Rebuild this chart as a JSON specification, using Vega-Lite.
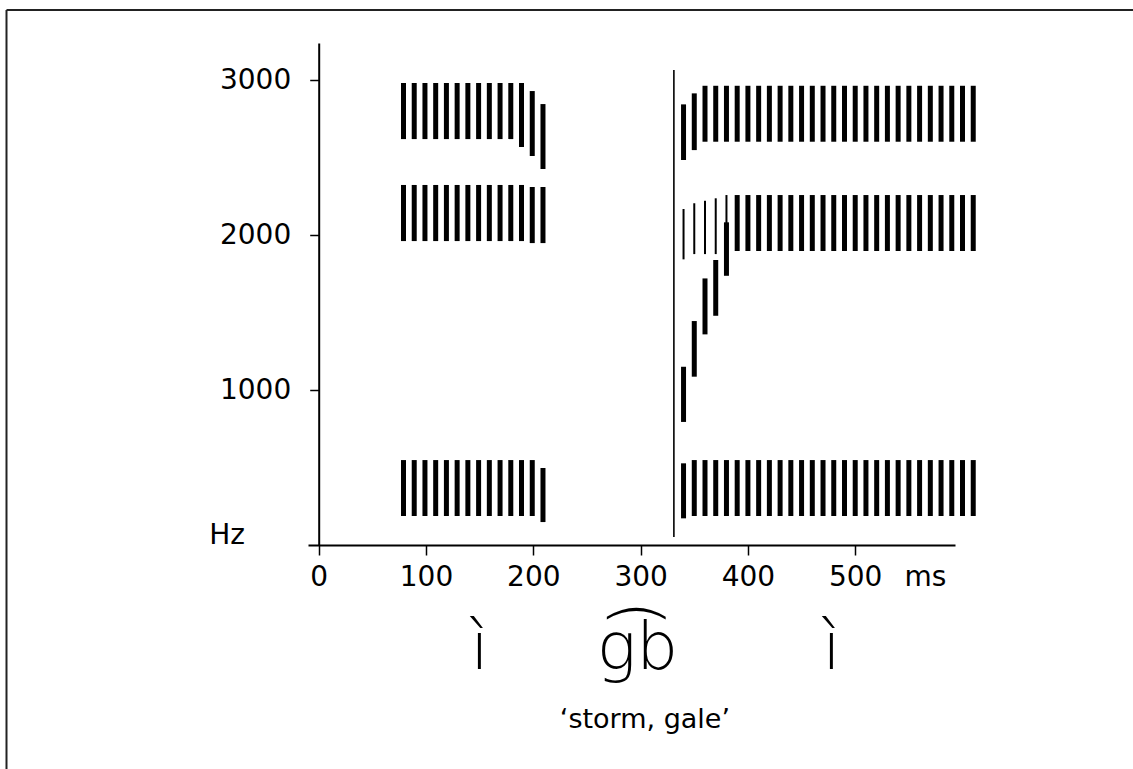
{
  "$schema": "https://vega.github.io/schema/vega-lite/v6.json",
  "autosize": {"type": "none"},
  "padding": {"left": 308, "top": 43, "right": 178, "bottom": 224},
  "width": 647,
  "height": 502,
  "background": "white",
  "datasets": {
    "bars": [
      {"t":79,"f":2619,"f2":2981},{"t":89,"f":2619,"f2":2981},{"t":99,"f":2619,"f2":2981},{"t":109,"f":2619,"f2":2981},{"t":119,"f":2619,"f2":2981},{"t":129,"f":2619,"f2":2981},{"t":139,"f":2619,"f2":2981},{"t":149,"f":2619,"f2":2981},{"t":159,"f":2619,"f2":2981},{"t":169,"f":2619,"f2":2981},{"t":179,"f":2619,"f2":2981},{"t":189,"f":2568,"f2":2981},{"t":199,"f":2510,"f2":2929},{"t":209,"f":2426,"f2":2845},
      {"t":79,"f":1961,"f2":2323},{"t":89,"f":1961,"f2":2323},{"t":99,"f":1961,"f2":2323},{"t":109,"f":1961,"f2":2323},{"t":119,"f":1961,"f2":2323},{"t":129,"f":1961,"f2":2323},{"t":139,"f":1961,"f2":2323},{"t":149,"f":1961,"f2":2323},{"t":159,"f":1961,"f2":2323},{"t":169,"f":1961,"f2":2323},{"t":179,"f":1961,"f2":2323},{"t":189,"f":1961,"f2":2323},{"t":199,"f":1948,"f2":2310},{"t":209,"f":1948,"f2":2310},
      {"t":79,"f":187,"f2":548},{"t":89,"f":187,"f2":548},{"t":99,"f":187,"f2":548},{"t":109,"f":187,"f2":548},{"t":119,"f":187,"f2":548},{"t":129,"f":187,"f2":548},{"t":139,"f":187,"f2":548},{"t":149,"f":187,"f2":548},{"t":159,"f":187,"f2":548},{"t":169,"f":187,"f2":548},{"t":179,"f":187,"f2":548},{"t":189,"f":187,"f2":548},{"t":199,"f":187,"f2":548},{"t":209,"f":148,"f2":497},
      {"t":340,"f":2484,"f2":2843},{"t":350,"f":2548,"f2":2914},{"t":360,"f":2602,"f2":2963},{"t":370,"f":2602,"f2":2963},{"t":380,"f":2602,"f2":2963},{"t":390,"f":2602,"f2":2963},{"t":400,"f":2602,"f2":2963},{"t":410,"f":2602,"f2":2963},{"t":420,"f":2602,"f2":2963},{"t":430,"f":2602,"f2":2963},{"t":440,"f":2602,"f2":2963},{"t":450,"f":2602,"f2":2963},{"t":460,"f":2602,"f2":2963},{"t":470,"f":2602,"f2":2963},{"t":480,"f":2602,"f2":2963},{"t":490,"f":2602,"f2":2963},{"t":500,"f":2602,"f2":2963},{"t":510,"f":2602,"f2":2963},{"t":520,"f":2602,"f2":2963},{"t":530,"f":2602,"f2":2963},{"t":540,"f":2602,"f2":2963},{"t":550,"f":2602,"f2":2963},{"t":560,"f":2602,"f2":2963},{"t":570,"f":2602,"f2":2963},{"t":580,"f":2602,"f2":2963},{"t":590,"f":2602,"f2":2963},{"t":600,"f":2602,"f2":2963},{"t":610,"f":2602,"f2":2963},
      {"t":340,"f":794,"f2":1150},{"t":350,"f":1086,"f2":1445},{"t":360,"f":1359,"f2":1720},{"t":370,"f":1479,"f2":1839},{"t":380,"f":1737,"f2":2082},
      {"t":390,"f":1897,"f2":2258},{"t":400,"f":1897,"f2":2258},{"t":410,"f":1897,"f2":2258},{"t":420,"f":1897,"f2":2258},{"t":430,"f":1897,"f2":2258},{"t":440,"f":1897,"f2":2258},{"t":450,"f":1897,"f2":2258},{"t":460,"f":1897,"f2":2258},{"t":470,"f":1897,"f2":2258},{"t":480,"f":1897,"f2":2258},{"t":490,"f":1897,"f2":2258},{"t":500,"f":1897,"f2":2258},{"t":510,"f":1897,"f2":2258},{"t":520,"f":1897,"f2":2258},{"t":530,"f":1897,"f2":2258},{"t":540,"f":1897,"f2":2258},{"t":550,"f":1897,"f2":2258},{"t":560,"f":1897,"f2":2258},{"t":570,"f":1897,"f2":2258},{"t":580,"f":1897,"f2":2258},{"t":590,"f":1897,"f2":2258},{"t":600,"f":1897,"f2":2258},{"t":610,"f":1897,"f2":2258},
      {"t":340,"f":172,"f2":527},{"t":350,"f":187,"f2":548},{"t":360,"f":187,"f2":548},{"t":370,"f":187,"f2":548},{"t":380,"f":187,"f2":548},{"t":390,"f":187,"f2":548},{"t":400,"f":187,"f2":548},{"t":410,"f":187,"f2":548},{"t":420,"f":187,"f2":548},{"t":430,"f":187,"f2":548},{"t":440,"f":187,"f2":548},{"t":450,"f":187,"f2":548},{"t":460,"f":187,"f2":548},{"t":470,"f":187,"f2":548},{"t":480,"f":187,"f2":548},{"t":490,"f":187,"f2":548},{"t":500,"f":187,"f2":548},{"t":510,"f":187,"f2":548},{"t":520,"f":187,"f2":548},{"t":530,"f":187,"f2":548},{"t":540,"f":187,"f2":548},{"t":550,"f":187,"f2":548},{"t":560,"f":187,"f2":548},{"t":570,"f":187,"f2":548},{"t":580,"f":187,"f2":548},{"t":590,"f":187,"f2":548},{"t":600,"f":187,"f2":548},{"t":610,"f":187,"f2":548}
    ],
    "thin": [
      {"t":340,"f":1843,"f2":2168},{"t":350,"f":1877,"f2":2205},{"t":360,"f":1877,"f2":2221},{"t":370,"f":1877,"f2":2237},{"t":380,"f":1877,"f2":2258}
    ],
    "closure": [
      {"t":331,"f":52,"f2":3065}
    ],
    "frame": [
      {"t":-291,"t2":759,"f":3452,"f2":3452},
      {"t":-291,"t2":-291,"f":3452,"f2":-1445}
    ],
    "segments": [
      {"t":150,"f":-800,"label":"ì"},
      {"t":297,"f":-800,"label":"g͡b"},
      {"t":478,"f":-800,"label":"ì"}
    ],
    "gloss": [
      {"t":304,"f":-1180,"label":"‘storm, gale’"}
    ]
  },
  "encoding": {
    "x": {"field": "t", "type": "quantitative",
          "scale": {"domain": [-10, 593], "nice": false, "zero": false},
          "axis": {"values": [0,100,200,300,400,500], "format": "d", "tickSize": 10, "tickWidth": 1.5, "domainWidth": 2,
                   "labelPadding": 8, "labelFlush": false, "labelOverlap": false,
                   "title": "ms", "titleX": 617, "titleY": 18, "titleAlign": "center", "titleBaseline": "top"}},
    "y": {"field": "f", "type": "quantitative",
          "scale": {"domain": [0, 3239], "nice": false, "zero": false},
          "axis": {"values": [1000,2000,3000], "format": "d", "offset": -10.7, "tickSize": 9, "tickWidth": 1.5, "domainWidth": 2,
                   "labelPadding": 19, "title": "Hz", "titleAngle": 0, "titleX": -110, "titleY": 492,
                   "titleAlign": "left", "titleBaseline": "middle"}}
  },
  "layer": [
    {
      "data": {"name": "bars"},
      "mark": {"type": "rule", "strokeWidth": 5, "color": "black"},
      "encoding": {"y2": {"field": "f2"}}
    },
    {
      "data": {"name": "thin"},
      "mark": {"type": "rule", "strokeWidth": 2, "color": "black"},
      "encoding": {"y2": {"field": "f2"}}
    },
    {
      "data": {"name": "closure"},
      "mark": {"type": "rule", "strokeWidth": 1.6, "color": "black"},
      "encoding": {"y2": {"field": "f2"}}
    },
    {
      "data": {"name": "frame"},
      "mark": {"type": "rule", "strokeWidth": 2, "color": "#222222"},
      "encoding": {"x2": {"field": "t2"}, "y2": {"field": "f2"}}
    },
    {
      "data": {"name": "segments"},
      "mark": {"type": "text", "font": "DejaVu Sans", "fontWeight": 300, "fontSize": 66, "color": "black", "align": "center", "baseline": "alphabetic"},
      "encoding": {"text": {"field": "label"}}
    },
    {
      "data": {"name": "gloss"},
      "mark": {"type": "text", "font": "DejaVu Sans", "fontSize": 27, "color": "black", "align": "center", "baseline": "alphabetic"},
      "encoding": {"text": {"field": "label"}}
    }
  ],
  "config": {
    "view": {"stroke": null},
    "axis": {"grid": false, "domainColor": "black", "tickColor": "black", "labelColor": "black", "titleColor": "black",
             "labelFont": "DejaVu Sans", "titleFont": "DejaVu Sans", "labelFontSize": 28, "titleFontSize": 28, "titleFontWeight": "normal"}
  }
}
